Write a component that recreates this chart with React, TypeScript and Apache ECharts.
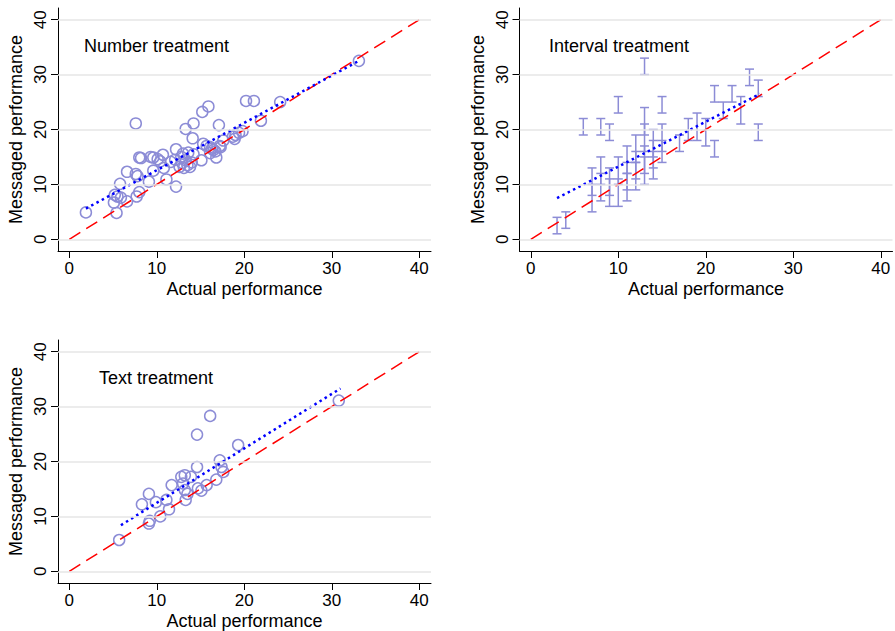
import React, { useEffect, useRef } from "react";
import * as echarts from "echarts";

// ---- data ----
const tickValues = [0, 10, 20, 30, 40];
const panelTitles = ["Number treatment", "Interval treatment", "Text treatment"];
const xAxisTitle = "Actual performance";
const yAxisTitle = "Messaged performance";

const numberPoints: number[][] = [
  [1.9, 4.9], [5.4, 4.8], [5.1, 6.7], [5.2, 8.1], [5.5, 7.8], [5.9, 7.6], [5.8, 10.1],
  [6.6, 6.9], [6.6, 12.3], [7.6, 11.9], [7.8, 11.5], [7.6, 21.1], [8.0, 8.6], [7.7, 7.8],
  [9.1, 10.5], [8.0, 14.9], [8.2, 14.8], [9.3, 15.0], [9.6, 14.9], [10.1, 14.6], [10.7, 15.4],
  [10.4, 14.2], [9.6, 12.5], [10.8, 13.0], [11.1, 10.9], [12.2, 9.6], [12.2, 16.4], [11.6, 14.1],
  [12.1, 14.5], [12.6, 13.2], [12.8, 15.0], [13.0, 15.6], [13.3, 14.4], [13.5, 13.5], [13.8, 13.2],
  [14.0, 14.0], [13.1, 13.0], [14.2, 15.5], [13.6, 15.8], [12.9, 13.9], [13.3, 20.1], [14.2, 21.1],
  [14.1, 18.4], [15.2, 23.2], [15.9, 24.2], [15.1, 14.4], [15.3, 17.4], [15.7, 17.0], [16.1, 16.8],
  [16.3, 16.5], [16.5, 16.3], [16.7, 16.0], [16.1, 15.7], [16.8, 14.9], [17.1, 20.8], [17.6, 18.0],
  [17.2, 17.0], [17.3, 16.8], [18.7, 18.7], [19.0, 19.0], [19.4, 19.4], [19.8, 19.7], [18.9, 18.3],
  [20.2, 25.2], [21.1, 25.2], [21.9, 21.6], [24.1, 25.0], [33.1, 32.5],
];
const numberFit: number[][] = [[1.9, 5.6], [33.1, 32.5]];

// [actual, messaged low, messaged high]
const intervalBars: number[][] = [
  [3, 1, 4], [4, 2, 5], [6, 19, 22], [8, 19, 22], [9, 18, 21], [10, 23, 26], [13, 30, 33], [15, 23, 26],
  [7, 5, 10], [7, 8, 13], [8, 7, 12], [8, 10, 15], [9, 6, 11], [9, 8, 13], [10, 6, 11], [10, 10, 15],
  [11, 9, 14], [11, 12, 17], [11, 7, 12], [12, 11, 16], [12, 14, 19], [12, 9, 14], [13, 12, 17],
  [13, 16, 21], [13, 19, 24], [13, 10, 15], [14, 11, 16], [14, 15, 20], [14, 13, 18], [15, 14, 18],
  [15, 16, 21], [17, 16, 19], [18, 18, 22], [19, 18, 23], [20, 17, 22], [21, 25, 28], [21, 15, 18],
  [22, 22, 25], [23, 25, 28], [24, 21, 26], [25, 28, 31], [26, 26, 29], [26, 18, 21],
];
const intervalFit: number[][] = [[3.0, 7.5], [26.2, 26.5]];

const textPoints: number[][] = [
  [5.7, 5.7], [9.2, 9.2], [9.1, 8.7], [10.4, 10.0], [11.4, 11.3], [8.3, 12.2], [9.1, 14.1],
  [9.9, 12.6], [11.1, 13.0], [11.7, 15.7], [12.8, 17.2], [13.2, 17.5], [13.9, 17.2], [13.0, 16.0],
  [13.2, 14.8], [13.5, 14.1], [13.3, 13.0], [14.6, 19.0], [14.7, 15.1], [15.1, 14.7], [15.7, 15.7],
  [16.8, 16.7], [17.2, 20.2], [17.4, 19.0], [17.6, 18.1], [19.3, 23.0], [14.6, 24.9], [16.1, 28.3],
  [30.8, 31.1],
];
const textFit: number[][] = [[5.9, 8.4], [31.0, 33.3]];

const identityLine: number[][] = [[0, 0], [40, 40]];

// ---- styling ----
const FONT = "'Liberation Sans', Arial, Helvetica, sans-serif";
const MARKER = "#8c8cd6";
const X_MIN = -1.29, X_MAX = 41.34, Y_MIN = -2.13, Y_MAX = 42.13;

const grids = [
  { left: 58, top: 8, width: 373, height: 243 },
  { left: 519.5, top: 8, width: 373, height: 243 },
  { left: 58, top: 340, width: 373, height: 243 },
];

function xAxisFor(i: number) {
  return {
    type: "value", gridIndex: i, min: X_MIN, max: X_MAX,
    name: xAxisTitle, nameLocation: "middle", nameGap: 29,
    nameTextStyle: { fontSize: 18, color: "#000", fontFamily: FONT },
    axisLine: { show: true, onZero: false, lineStyle: { color: "#000", width: 1 } },
    axisTick: { show: true, customValues: tickValues, length: 7, lineStyle: { color: "#000", width: 1 } },
    axisLabel: { show: true, customValues: tickValues, fontSize: 17, color: "#000", fontFamily: FONT, margin: 9 },
    splitLine: { show: false },
  };
}
function yAxisFor(i: number) {
  return {
    type: "value", gridIndex: i, min: Y_MIN, max: Y_MAX,
    name: yAxisTitle, nameLocation: "middle", nameGap: 33, nameRotate: 90,
    nameTextStyle: { fontSize: 18, color: "#000", fontFamily: FONT },
    axisLine: { show: true, onZero: false, lineStyle: { color: "#000", width: 1 } },
    axisTick: { show: true, customValues: tickValues, length: 7, lineStyle: { color: "#000", width: 1 } },
    axisLabel: { show: true, customValues: tickValues, rotate: 90, fontSize: 17, color: "#000", fontFamily: FONT, margin: 9 },
    splitLine: { show: false },
  };
}

function gridLineSeries(i: number) {
  return {
    type: "line", xAxisIndex: i, yAxisIndex: i, data: [], z: 1, silent: true,
    markLine: {
      silent: true, symbol: ["none", "none"], label: { show: false },
      lineStyle: { color: "#e6e6e6", width: 1.5, type: "solid" },
      data: tickValues.map((v) => ({ yAxis: v })),
    },
  };
}
function identitySeries(i: number) {
  return {
    type: "line", xAxisIndex: i, yAxisIndex: i, data: identityLine, symbol: "none", z: 3,
    lineStyle: { color: "#ff0000", width: 1.5, type: [13, 7] },
  };
}
function fitSeries(i: number, d: number[][]) {
  return {
    type: "line", xAxisIndex: i, yAxisIndex: i, data: d, symbol: "none", z: 4,
    lineStyle: { color: "#0000ff", width: 2.5, type: [2.5, 3.5] },
  };
}
function scatterSeries(i: number, d: number[][]) {
  return {
    type: "scatter", xAxisIndex: i, yAxisIndex: i, data: d, symbol: "circle", symbolSize: 11, z: 2,
    itemStyle: { color: "rgba(0,0,0,0)", borderColor: MARKER, borderWidth: 1.5, opacity: 1 },
  };
}

export default function App() {
  const ref = useRef<HTMLDivElement>(null);
  useEffect(() => {
    document.body.style.margin = "0";
    if (!ref.current) return;
    const chart = echarts.init(ref.current, null, { renderer: "svg" });
    const option: any = {
      animation: false,
      backgroundColor: "#ffffff",
      grid: grids,
      xAxis: [0, 1, 2].map(xAxisFor),
      yAxis: [0, 1, 2].map(yAxisFor),
      graphic: [
        { type: "text", left: 84, top: 37, style: { text: panelTitles[0], fontSize: 18, fill: "#000", fontFamily: FONT } },
        { type: "text", left: 549, top: 37, style: { text: panelTitles[1], fontSize: 18, fill: "#000", fontFamily: FONT } },
        { type: "text", left: 99, top: 369, style: { text: panelTitles[2], fontSize: 18, fill: "#000", fontFamily: FONT } },
      ],
      series: [
        gridLineSeries(0), gridLineSeries(1), gridLineSeries(2),
        scatterSeries(0, numberPoints),
        {
          type: "custom", xAxisIndex: 1, yAxisIndex: 1, data: intervalBars, z: 2,
          encode: { x: 0, y: [1, 2] },
          renderItem: (params: any, api: any) => {
            const x = api.value(0), lo = api.value(1), hi = api.value(2);
            const a = api.coord([x, lo]);
            const b = api.coord([x, hi]);
            const w = 4.5;
            const style = { stroke: MARKER, lineWidth: 1.5, fill: "none" };
            return {
              type: "group",
              children: [
                { type: "line", shape: { x1: a[0], y1: a[1], x2: b[0], y2: b[1] }, style },
                { type: "line", shape: { x1: a[0] - w, y1: a[1], x2: a[0] + w, y2: a[1] }, style },
                { type: "line", shape: { x1: b[0] - w, y1: b[1], x2: b[0] + w, y2: b[1] }, style },
              ],
            };
          },
        },
        scatterSeries(2, textPoints),
        identitySeries(0), identitySeries(1), identitySeries(2),
        fitSeries(0, numberFit), fitSeries(1, intervalFit), fitSeries(2, textFit),
      ],
    };
    chart.setOption(option);
    return () => chart.dispose();
  }, []);
  return <div ref={ref} style={{ width: 895, height: 631, background: "#fff" }} />;
}
